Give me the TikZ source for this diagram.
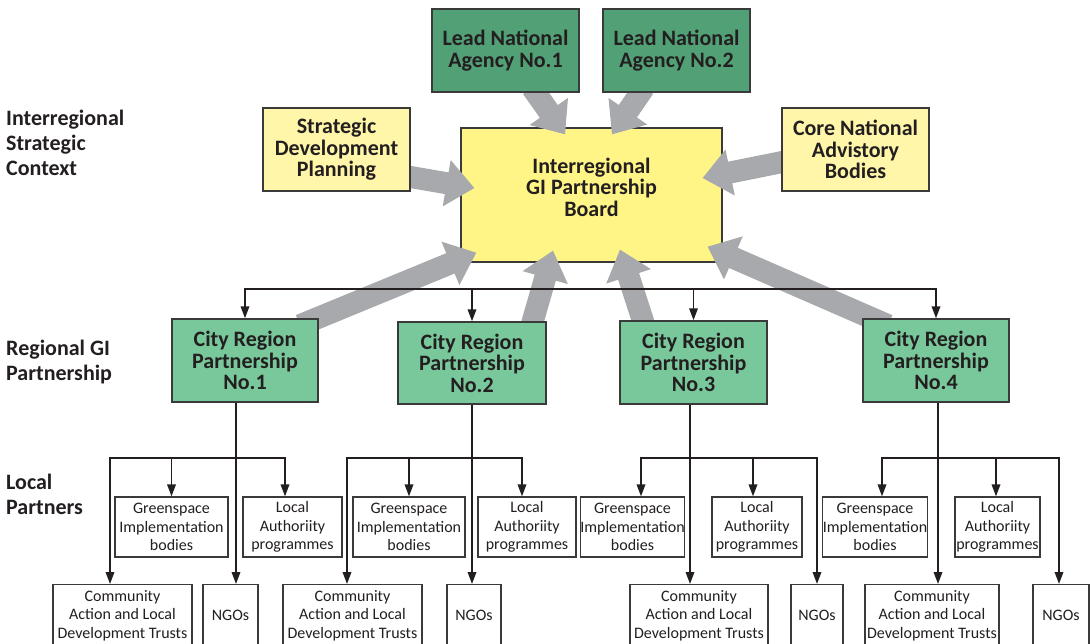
\documentclass[tikz,border=0pt]{standalone}
\usepackage{fontspec}
\setmainfont{Carlito}
\usetikzlibrary{arrows.meta,calc}
\definecolor{leadgreen}{HTML}{52A076}
\definecolor{citygreen}{HTML}{78C89B}
\definecolor{boardyellow}{HTML}{FFF587}
\definecolor{paleyellow}{HTML}{FFF6AA}
\definecolor{flowgray}{HTML}{A7A9AC}
\definecolor{ink}{HTML}{231F20}
\definecolor{edge}{HTML}{3A3A3A}
\pgfdeclarelayer{back}
\pgfdeclarelayer{mid}
\pgfsetlayers{back,mid,main}

% broad grey arrow from #1 to the tip #2
\newcommand\flowarrow[2]{%
  \coordinate (fa-h) at ($(#2)!28pt!(#1)$);
  \fill[flowgray] ($(#1)!11pt!90:(#2)$) -- ($(fa-h)!11pt!90:(#2)$)
    -- ($(fa-h)!23.5pt!90:(#2)$) -- (#2) -- ($(fa-h)!23.5pt!-90:(#2)$)
    -- ($(fa-h)!11pt!-90:(#2)$) -- ($(#1)!11pt!-90:(#2)$) -- cycle;
}

\tikzset{
  every node/.style={text=ink},
  bigbox/.style={draw=edge, line width=1.4pt, align=center, inner sep=0pt,
    font=\fontsize{22}{21.5}\selectfont\bfseries},
  leadbox/.style={bigbox, fill=leadgreen, minimum width=147pt, minimum height=83pt},
  palebox/.style={bigbox, fill=paleyellow, minimum width=147pt, minimum height=83pt},
  citybox/.style={bigbox, fill=citygreen, minimum width=147pt, minimum height=83pt},
  smallbox/.style={draw=edge, line width=1.2pt, align=center, inner sep=0pt,
    fill=white, font=\fontsize{16}{18.5}\selectfont, minimum height=60pt},
  lowbox/.style={smallbox, anchor=north, minimum height=62pt},
  rowlabel/.style={anchor=west, align=left, inner sep=0pt,
    font=\fontsize{22}{25}\selectfont\bfseries},
  link/.style={draw=ink, line width=1.8pt},
  tip/.style={link, -{Triangle[width=8.5pt,length=12pt]}},
  twotips/.style={link, {Triangle[width=8.5pt,length=12pt]}-{Triangle[width=8.5pt,length=12pt]}}
}

\begin{document}
\begin{tikzpicture}[x=1pt, y=-1pt]
\useasboundingbox (0,0) rectangle (1092,644);

% row labels
\node[rowlabel] (lab1) at (6,143) {Interregional\\Strategic\\Context};
\node[rowlabel] (lab2) at (6,362.5) {Regional GI\\Partnership};
\node[rowlabel] (lab3) at (6,494) {Local\\Partners};

% central board
\begin{pgfonlayer}{back}
\node[bigbox, fill=boardyellow, minimum width=261pt, minimum height=134pt] (board) at (591.5,195) {};
\end{pgfonlayer}
\node[bigbox, draw=none] (boardtext) at (591.5,187) {Interregional\\GI Partnership\\Board};

% national level
\node[leadbox] (lead1) at (505.5,50.5) {Lead National\\Agency No.1};
\node[leadbox] (lead2) at (676.5,50.5) {Lead National\\Agency No.2};
\node[palebox] (strat) at (336.5,149.5) {Strategic\\Development\\Planning};
\node[palebox] (core) at (855.5,149.5) {Core National\\Advistory\\Bodies};

% city regions
\node[citybox, minimum width=146pt] (cr1) at (245,360.5) {City Region\\Partnership\\No.1};
\node[citybox, minimum width=148pt, minimum height=82pt] (cr2) at (472,363) {City Region\\Partnership\\No.2};
\node[citybox] (cr3) at (693.5,362.5) {City Region\\Partnership\\No.3};
\node[citybox, minimum width=146pt] (cr4) at (936,360.5) {City Region\\Partnership\\No.4};

% local partners
\node[smallbox, minimum width=113pt] (g1) at (171.5,527) {Greenspace\\Implementation\\bodies};
\node[smallbox, minimum width=99pt] (l1) at (292.5,527) {Local\\Authoriity\\programmes};
\node[smallbox, minimum width=112pt] (g2) at (409,527) {Greenspace\\Implementation\\bodies};
\node[smallbox, minimum width=98pt] (l2) at (527,527) {Local\\Authoriity\\programmes};
\node[smallbox, minimum width=103pt] (g3) at (632.5,527) {Greenspace\\Implementation\\bodies};
\node[smallbox, minimum width=90pt] (l3) at (757,527) {Local\\Authoriity\\programmes};
\node[smallbox, minimum width=102pt] (g4) at (875,527) {Greenspace\\Implementation\\bodies};
\node[smallbox, minimum width=85pt] (l4) at (997.5,527) {Local\\Authoriity\\programmes};

\node[lowbox, minimum width=139pt] (c1) at (122.5,584) {Community\\Action and Local\\Development Trusts};
\node[lowbox, minimum width=55pt] (n1) at (230.5,584) {NGOs};
\node[lowbox, minimum width=139pt] (c2) at (352.5,584) {Community\\Action and Local\\Development Trusts};
\node[lowbox, minimum width=54pt] (n2) at (474,584) {NGOs};
\node[lowbox, minimum width=138pt] (c3) at (699,584) {Community\\Action and Local\\Development Trusts};
\node[lowbox, minimum width=52pt] (n3) at (817,584) {NGOs};
\node[lowbox, minimum width=134pt] (c4) at (932,584) {Community\\Action and Local\\Development Trusts};
\node[lowbox, minimum width=56pt] (n4) at (1061,584) {NGOs};

% broad grey arrows into the board
\begin{pgfonlayer}{mid}
\coordinate (s1) at ($(lead1.south)+(26.5,-5)$);  \coordinate (t1) at ($(board.north)+(-26.5,7)$);
\coordinate (s2) at ($(lead2.south)+(-32.5,-5)$); \coordinate (t2) at ($(board.north)+(20.5,7)$);
\coordinate (s3) at ($(strat.east)+(-6,26.5)$);   \coordinate (t3) at ($(board.west)+(14,-7)$);
\coordinate (s4) at ($(core.west)+(6,11.5)$);     \coordinate (t4) at ($(board.east)+(-20,-17)$);
\coordinate (s5) at ($(cr1.north)+(55,7)$);       \coordinate (t5) at ($(board.south west)+(16,-10)$);
\coordinate (s6) at ($(cr2.north)+(59,6)$);       \coordinate (t6) at ($(board.south)+(-38.5,-12)$);
\coordinate (s7) at ($(cr3.north)+(-48.5,7)$);    \coordinate (t7) at ($(board.south)+(28.5,-13)$);
\coordinate (s8) at ($(cr4.north)+(-48,7)$);      \coordinate (t8) at ($(board.south east)+(-15,-16)$);
\flowarrow{s1}{t1}
\flowarrow{s2}{t2}
\flowarrow{s3}{t3}
\flowarrow{s4}{t4}
\flowarrow{s5}{t5}
\flowarrow{s6}{t6}
\flowarrow{s7}{t7}
\flowarrow{s8}{t8}
\end{pgfonlayer}

% board to city regions
\coordinate (top) at (0,289);
\draw[twotips] (cr1.north) -- (cr1.north |- top) -- (cr4.north |- top) -- (cr4.north);
\draw[tip] (cr2.north |- top) -- (cr2.north);
\draw[tip] (cr3.north |- top) -- (cr3.north);

% city region 1 to local partners
\coordinate (j1) at (236,458);
\coordinate (a1) at (110,458);
\coordinate (b1) at (285,458);
\draw[tip] (cr1.south -| j1) -- (n1.north -| j1);
\draw[twotips] (c1.north -| a1) -- (a1) -- (b1) -- (l1.north -| b1);
\draw[tip] (g1.north |- j1) -- (g1.north);

% city region 2
\coordinate (j2) at (472,458);
\coordinate (a2) at (347,458);
\coordinate (b2) at (522,458);
\draw[tip] (cr2.south -| j2) -- (n2.north -| j2);
\draw[twotips] (c2.north -| a2) -- (a2) -- (b2) -- (l2.north -| b2);
\draw[tip] (g2.north |- j2) -- (g2.north);

% city region 3
\coordinate (j3) at (690,458);
\coordinate (a3) at (641,458);
\coordinate (b3) at (817,458);
\coordinate (m3) at (753,458);
\draw[tip] (cr3.south -| j3) -- (c3.north -| j3);
\draw[twotips] (g3.north -| a3) -- (a3) -- (b3) -- (n3.north -| b3);
\draw[tip] (m3) -- (l3.north -| m3);

% city region 4
\coordinate (j4) at (938,458);
\coordinate (a4) at (882,458);
\coordinate (b4) at (1059,458);
\coordinate (m4) at (996,458);
\draw[tip] (cr4.south -| j4) -- (c4.north -| j4);
\draw[twotips] (g4.north -| a4) -- (a4) -- (b4) -- (n4.north -| b4);
\draw[tip] (m4) -- (l4.north -| m4);
\end{tikzpicture}
\end{document}
